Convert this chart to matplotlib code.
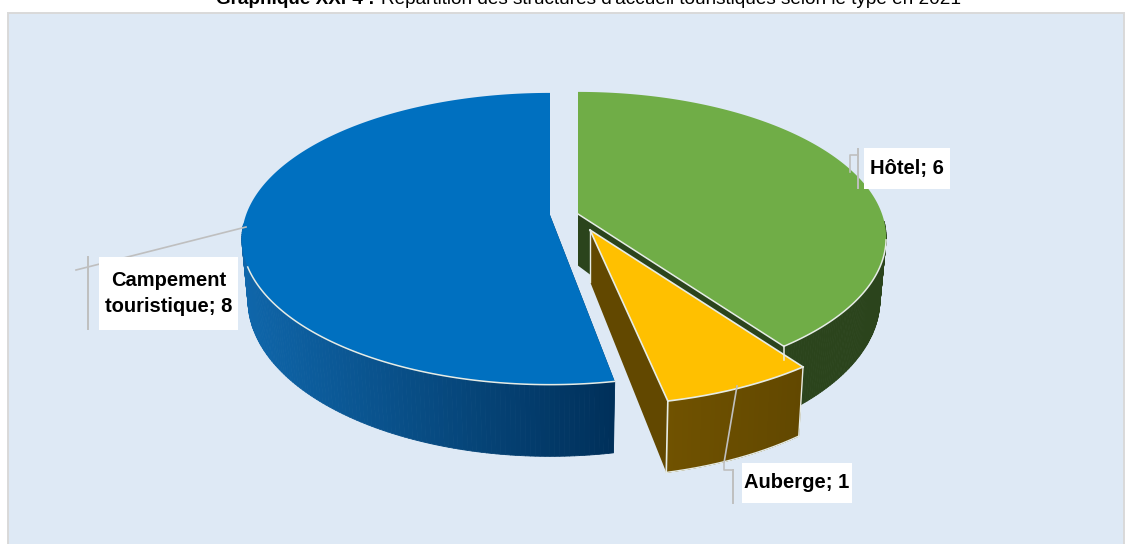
import numpy as np
import matplotlib
matplotlib.use('Agg')
import matplotlib.pyplot as plt
from matplotlib.patches import Rectangle, Polygon
from matplotlib.collections import PolyCollection
from matplotlib.colors import LinearSegmentedColormap

plt.rcParams['font.family'] = ['Liberation Sans', 'DejaVu Sans']

categories = ['Hôtel', 'Auberge', 'Campement\ntouristique']
values = [6, 1, 8]

title_bold = 'Graphique XXI-4 :'
title_rest = "Répartition des structures d'accueil touristiques selon le type en 2021"

# look of each slice: top colour, wall colours, apex position in pixels, size
top_colors = ['#70AD47', '#FFC000', '#0070C0']
wall_colors = [('#2B441C', '#2B441C'), ('#705200', '#624800'), ('#0F66AA', '#00305A')]
apex = [(578, 214), (590, 230), (550, 215)]
sizes = [1.0, 1.035, 1.0]
start_nudge = [0, 0, np.radians(1.7)]
edge_color = '#E6ECE6'

# perspective of the pie
Rx, Ry, p = 304, 142, 0.163
depth = 60
shrink = 0.98


def top_xy(c, th, s=1.0):
    th = np.asarray(th)
    w = 1 + p * np.cos(th)
    return c[0] + s * Rx * np.sin(th) / w, c[1] - s * Ry * np.cos(th) / w


def bottom_xy(c, th, s=1.0):
    th = np.asarray(th)
    x, y = top_xy(c, th, s)
    return c[0] + (x - c[0]) * shrink, y + depth / (1 + p * np.cos(th))


fig = plt.figure(figsize=(11.27, 5.44), dpi=100)
ax = fig.add_axes([0, 0, 1, 1])
ax.set_xlim(0, 1127)
ax.set_ylim(544, 0)
ax.axis('off')

ax.add_patch(Rectangle((8, 13), 1116, 540, fc='#DEE9F5', ec='#D9D9D9', lw=1.4))

fractions = np.array(values) / sum(values)
ends = np.cumsum(fractions) * 2 * np.pi
starts = ends - fractions * 2 * np.pi

# back to front: green, blue, yellow
for i in [0, 2, 1]:
    c = apex[i]
    s = sizes[i]
    a0, a1 = starts[i] + start_nudge[i], ends[i]
    th = np.linspace(a0, a1, 241)
    x0, y0 = top_xy(c, th, s)

    # radial faces, skipped when the edge runs straight to the back
    for a in [a0, a1]:
        if np.cos(a) > 0.99:
            continue
        ex, ey = top_xy(c, a, s)
        bx, by = bottom_xy(c, a, s)
        ax.add_patch(Polygon([c, (ex, ey), (bx, by), (c[0], c[1] + depth * 0.86)],
                             fc=wall_colors[i][1], ec='none', zorder=2))

    # outer wall, painted in thin strips for the gradient, front part only
    front = th[np.cos(th) < -0.05]
    xf0, yf0 = top_xy(c, front, s)
    xf1, yf1 = bottom_xy(c, front, s)
    quads = [[(xf0[k], yf0[k]), (xf0[k + 1], yf0[k + 1]), (xf1[k + 1], yf1[k + 1]), (xf1[k], yf1[k])]
             for k in range(len(front) - 1)]
    cmap = LinearSegmentedColormap.from_list('w', wall_colors[i])
    lo, hi = xf0.min(), xf0.max()
    t = ((xf0[:-1] + xf0[1:]) / 2 - lo) / max(hi - lo, 1)
    cols = cmap(t)
    ax.add_collection(PolyCollection(quads, facecolors=cols, edgecolors=cols, lw=0.6, zorder=2))

    # top of the slice
    ax.add_patch(Polygon([c] + list(zip(x0, y0)), fc=top_colors[i], ec='none', zorder=2))

    # pale edges
    if i == 0:
        vis = th[th > np.radians(100)]
        ax.plot(*top_xy(c, vis), color=edge_color, lw=1.1, zorder=3)
        ex, ey = top_xy(c, a1)
        ax.plot([c[0], ex], [c[1], ey], color=edge_color, lw=1.1, zorder=3)
        ax.plot([ex, ex], [ey, ey + 14], color=edge_color, lw=1.1, zorder=3)
    elif i == 1:
        ax.plot(*top_xy(c, th, s), color=edge_color, lw=1.2, zorder=3)
        for a in [a0, a1]:
            ex, ey = top_xy(c, a, s)
            ax.plot([c[0], ex], [c[1], ey], color=edge_color, lw=1.2, zorder=3)
        ex, ey = top_xy(c, a1, s)
        bx, by = bottom_xy(c, a1, s)
        ax.plot([ex, bx], [ey, by], color=edge_color, lw=1.2, zorder=3)
        ax.plot(*bottom_xy(c, th, s), color=edge_color, lw=1.0, zorder=3)
        ex, ey = top_xy(c, a0, s)
        bx, by = bottom_xy(c, a0, s)
        ax.plot([ex, bx], [ey, by], color=edge_color, lw=1.0, zorder=3)
        ax.plot([c[0], c[0]], [c[1], c[1] + depth * 0.86], color=edge_color, lw=1.0, zorder=3)
    else:
        vis = th[th < np.radians(250)]
        ax.plot(*top_xy(c, vis), color=edge_color, lw=1.1, zorder=3)

# leader lines
lead = '#BFBFBF'
ax.plot([246, 76], [227, 270], color=lead, lw=1.2, zorder=4)
ax.plot([88, 88], [257, 329], color=lead, lw=1.4, zorder=4)
ax.plot([850, 850, 858], [172, 155, 155], color=lead, lw=1.2, zorder=4)
ax.plot([858, 858], [149, 188], color=lead, lw=1.4, zorder=4)
ax.plot([737, 724, 724, 733], [386, 463, 470, 470], color=lead, lw=1.2, zorder=4)
ax.plot([733, 733], [470, 503], color=lead, lw=1.4, zorder=4)

# data labels
boxes = [(864, 148, 86, 41), (742, 463, 110, 40), (99, 257, 139, 73)]
for i in range(3):
    x, y, w, h = boxes[i]
    ax.add_patch(Rectangle((x, y), w, h, fc='white', ec='none', zorder=5))
    ax.text(x + w / 2, y + h / 2, '%s; %d' % (categories[i], values[i]), ha='center',
            va='center', fontsize=14.5, fontweight='bold', color='black', linespacing=1.45, zorder=6)

# the caption is cut by the top of the picture
ax.text(216, 4, title_bold, fontsize=13.6, fontweight='bold', color='black', va='baseline', clip_on=True)
ax.text(381, 4, title_rest, fontsize=13.7, color='black', va='baseline', clip_on=True)

fig.savefig('out.png', dpi=100)
